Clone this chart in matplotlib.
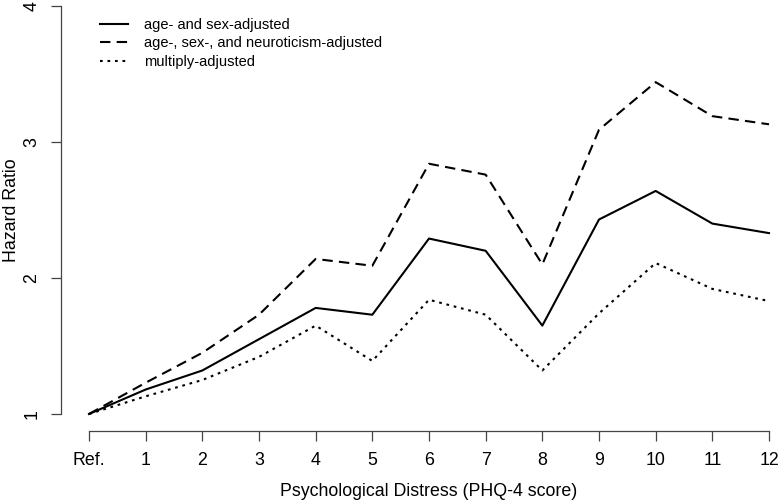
import matplotlib
matplotlib.use("Agg")
import matplotlib.pyplot as plt

plt.rcParams['font.family'] = ['Liberation Sans', 'DejaVu Sans']

# PHQ-4 score categories
scores = list(range(13))
tick_labels = ['Ref.'] + [str(i) for i in range(1, 13)]

# hazard ratios
hr_age_sex = [1.0, 1.18, 1.32, 1.55, 1.78, 1.73, 2.29, 2.20, 1.65, 2.43, 2.64, 2.40, 2.33]
hr_neuro = [1.0, 1.23, 1.45, 1.73, 2.14, 2.09, 2.84, 2.76, 2.10, 3.09, 3.44, 3.19, 3.13]
hr_multi = [1.0, 1.13, 1.25, 1.42, 1.65, 1.39, 1.84, 1.73, 1.32, 1.74, 2.11, 1.92, 1.83]

W, H = 780, 503
fig = plt.figure(figsize=(W / 100, H / 100), dpi=100)

# plot region in pixels: left 61, bottom axis line at 431, top at 0
ax = fig.add_axes([61 / W, (H - 431) / H, (W - 61) / W, 431 / H])
ax.set_xlim(-0.494, 12.194)
ax.set_ylim(0.875, 4.044)

ax.plot(scores, hr_age_sex, color='black', lw=1.5, label='age- and sex-adjusted')
ax.plot(scores, hr_neuro, color='black', lw=1.5, dashes=(5, 3),
        label='age-, sex-, and neuroticism-adjusted')
ax.plot(scores, hr_multi, color='black', lw=1.5, dashes=(1.3, 2.3),
        label='multiply-adjusted')

for s in ['top', 'right']:
    ax.spines[s].set_visible(False)
ax.spines['left'].set_bounds(1, 4)
ax.spines['bottom'].set_bounds(0, 12)
for s in ['left', 'bottom']:
    ax.spines[s].set_color('#444444')
    ax.spines[s].set_linewidth(0.9)

ax.set_xticks(scores)
ax.set_xticklabels(tick_labels)
ax.set_yticks([1, 2, 3, 4])
ax.set_yticklabels(['1', '2', '3', '4'], rotation=90, va='center')
ax.tick_params(axis='both', direction='out', length=7, width=0.9,
               color='#444444', labelsize=12.8, pad=8)

ax.set_ylabel('Hazard Ratio', fontsize=12.8)
ax.yaxis.set_label_coords(-41 / (W - 61), (431 - 210) / 431)
fig.text(429 / W, 1 - 492 / H, 'Psychological Distress (PHQ-4 score)',
         fontsize=12.8, ha='center', va='center')

leg = ax.legend(loc='upper left', bbox_to_anchor=(100 / W, 1 - 18 / H),
                bbox_transform=fig.transFigure, frameon=False,
                fontsize=10.5, handlelength=1.9, handletextpad=1.1,
                labelspacing=0.3, borderaxespad=0, borderpad=0)

fig.savefig('out.png', dpi=100)
